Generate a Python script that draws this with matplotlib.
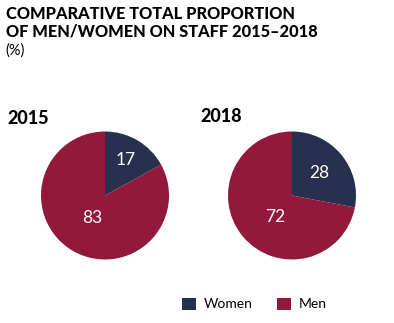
import numpy as np
import matplotlib.pyplot as plt
from matplotlib.patches import Patch

years = ['2015', '2018']
categories = ['Women', 'Men']
women = [17, 28]
men = [83, 72]
colors = ['#27304f', '#92183c']

W, H = 394, 323
fig = plt.figure(figsize=(W / 100, H / 100), dpi=100)

# titles
fig.text(6 / W, 1 - 6 / H, 'COMPARATIVE TOTAL PROPORTION\nOF MEN/WOMEN ON STAFF 2015\u20132018',
         family='Lato', fontweight='black', fontsize=11.8, va='top', ha='left',
         linespacing=1.12, color='black')
fig.text(5 / W, 1 - 43 / H, '(%)', family='Lato', fontsize=10.5, va='top', ha='left')

centers = [(105, 195.5), (292, 195.5)]
radius = 64
label_r = [[0.65, 0.40], [0.55, 0.42]]
label_shift = [[0, 0], [0, 12]]  # angle nudges in degrees

for i, yr in enumerate(years):
    cx, cy = centers[i]
    ax = fig.add_axes([(cx - radius) / W, (H - cy - radius) / H, 2 * radius / W, 2 * radius / H])
    vals = [women[i], men[i]]
    wedges, _ = ax.pie(vals, colors=colors, startangle=90, counterclock=False,
                       radius=1, wedgeprops=dict(linewidth=0))
    for j, w in enumerate(wedges):
        ang = np.deg2rad((w.theta1 + w.theta2) / 2 + label_shift[i][j])
        r = label_r[i][j]
        ax.text(r * np.cos(ang), r * np.sin(ang), str(vals[j]), color='white',
                ha='center', va='center', family='Lato', fontsize=12.5)
    ax.set_xlim(-1, 1)
    ax.set_ylim(-1, 1)
    ax.set_aspect('equal')
    ax.axis('off')

fig.text(7 / W, 1 - 119 / H, years[0], family='Lato', fontweight='black', fontsize=13,
         va='center', ha='left')
fig.text(200 / W, 1 - 117 / H, years[1], family='Lato', fontweight='black', fontsize=13,
         va='center', ha='left')

handles = [Patch(facecolor=c, edgecolor='none') for c in colors]
fig.legend(handles, categories, loc='center left', bbox_to_anchor=(182 / W, 1 - 304 / H),
           ncol=2, frameon=False, prop=dict(family='Lato', size=10),
           handlelength=1.0, handleheight=1.0, columnspacing=1.7, handletextpad=0.6,
           borderpad=0, borderaxespad=0)

fig.savefig('out.png', dpi=100)
